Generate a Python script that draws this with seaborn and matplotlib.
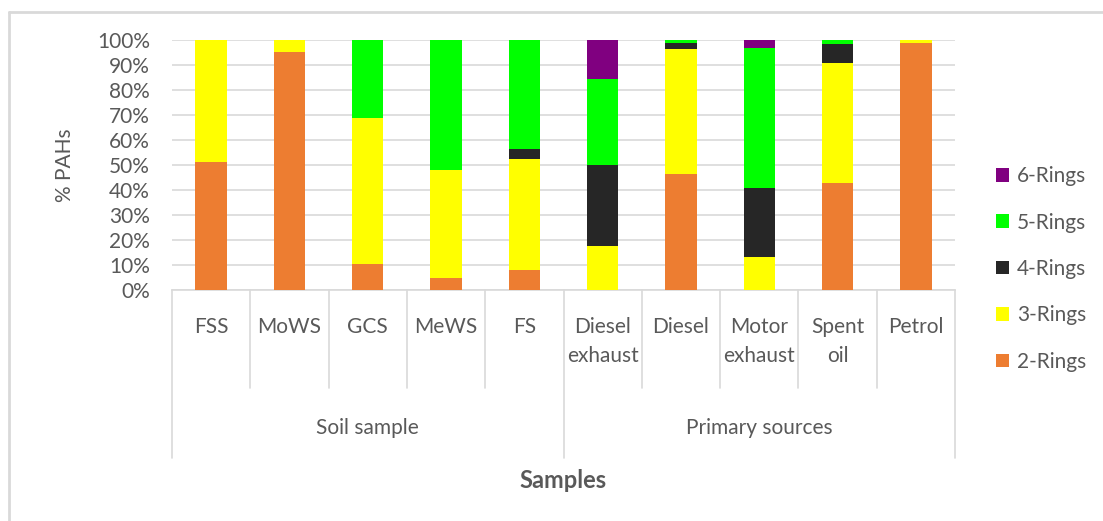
import matplotlib
matplotlib.use("Agg")
import matplotlib.pyplot as plt
import matplotlib.transforms as mtransforms
from matplotlib.patches import Patch
from matplotlib.lines import Line2D
import numpy as np
import pandas as pd
import seaborn as sns

# ── Data ──────────────────────────────────────────────────────
samples = ["FSS", "MoWS", "GCS", "MeWS", "FS",
           "Diesel\nexhaust", "Diesel", "Motor\nexhaust", "Spent\noil", "Petrol"]
groups = ["Soil sample", "Primary sources"]
group_sizes = [5, 5]

rings = ["2-Rings", "3-Rings", "4-Rings", "5-Rings", "6-Rings"]
ring_2 = [51.1, 95.4, 10.3, 4.7, 8.2, 0.0, 46.4, 0.0, 42.8, 98.9]
ring_3 = [48.9, 4.6, 58.7, 43.2, 44.3, 17.6, 50.0, 13.4, 48.0, 1.1]
ring_4 = [0.0, 0.0, 0.0, 0.0, 3.8, 32.4, 2.5, 27.4, 7.6, 0.0]
ring_5 = [0.0, 0.0, 31.0, 52.1, 43.7, 34.6, 1.1, 56.0, 1.6, 0.0]
ring_6 = [0.0, 0.0, 0.0, 0.0, 0.0, 15.4, 0.0, 3.2, 0.0, 0.0]

COLORS = {"2-Rings": "#ED7D31", "3-Rings": "#FFFF00", "4-Rings": "#262626",
          "5-Rings": "#00FF00", "6-Rings": "#800080"}
TEXT = "#595959"
GRID = "#D9D9D9"
FS = 15

# ── Setup ─────────────────────────────────────────────────────
sns.set_theme(style="white")
plt.rcParams["font.family"] = ["Lato", "DejaVu Sans"]

df = pd.DataFrame({"sample": samples, "2-Rings": ring_2, "3-Rings": ring_3,
                   "4-Rings": ring_4, "5-Rings": ring_5, "6-Rings": ring_6})
# cumulative tops, each series drawn over the previous one
cum = df[rings].cumsum(axis=1)

W, H = 1103, 521
fig = plt.figure(figsize=(W / 100, H / 100), dpi=100)
ax = fig.add_axes([172 / W, 1 - 290 / H, (955 - 172) / W, 250 / H])

for ring in reversed(rings):
    sns.barplot(x=df["sample"], y=cum[ring], order=samples, color=COLORS[ring],
                width=0.4, saturation=1, ax=ax, linewidth=0, zorder=3)

ax.set_ylim(0, 100)
ax.set_xlim(-0.5, len(samples) - 0.5)
ax.set_yticks(np.arange(0, 101, 10))
ax.set_yticklabels([f"{v}%" for v in range(0, 101, 10)], fontsize=FS, color=TEXT)
ax.tick_params(axis="y", length=0, pad=16)
ax.yaxis.grid(True, color=GRID, linewidth=1.2, zorder=0)
ax.set_axisbelow(True)
for s in ["top", "right", "left"]:
    ax.spines[s].set_visible(False)
ax.spines["bottom"].set_color(GRID)
ax.spines["bottom"].set_linewidth(1.2)
ax.set_xticks([])
ax.set_xlabel("")
ax.set_ylabel("% PAHs", fontsize=FS, color=TEXT, labelpad=16)

# ── Multi-level category axis ─────────────────────────────────
trans = mtransforms.blended_transform_factory(ax.transData, fig.transFigure)

def fy(py):
    return 1 - py / H

for i, lab in enumerate(samples):
    ax.text(i, fy(317), lab, transform=trans, ha="center", va="top",
            fontsize=FS, color=TEXT, linespacing=1.55)

bounds = np.cumsum([0] + group_sizes)
for i in range(len(samples) + 1):
    x = i - 0.5
    bottom = 458 if i in bounds else 388
    ax.add_line(Line2D([x, x], [fy(290), fy(bottom)], transform=trans,
                       color=GRID, linewidth=1.2, clip_on=False))

for g, a, b in zip(groups, bounds[:-1], bounds[1:]):
    ax.text((a + b - 1) / 2, fy(428), g, transform=trans, ha="center",
            va="center", fontsize=FS, color=TEXT)

fig.text((172 + 955) / 2 / W, fy(480), "Samples", ha="center", va="center",
         fontsize=17, fontweight="bold", color=TEXT)

# ── Legend ────────────────────────────────────────────────────
handles = [Patch(facecolor=COLORS[r], edgecolor="none", label=r)
           for r in reversed(rings)]
leg = fig.legend(handles=handles, loc="center left",
                 bbox_to_anchor=(996 / W, fy(269)), frameon=False,
                 fontsize=FS, handlelength=0.62, handleheight=0.62,
                 handletextpad=0.4, labelspacing=1.27, borderpad=0,
                 borderaxespad=0)
for t in leg.get_texts():
    t.set_color(TEXT)

# ── Outer border (left and top) ───────────────────────────────
fig.add_artist(Line2D([9 / W, 9 / W], [0, fy(12)], color=GRID, linewidth=2))
fig.add_artist(Line2D([9 / W, 1], [fy(12), fy(12)], color=GRID, linewidth=2))

plt.savefig("out.png", dpi=100, facecolor="white")
plt.close()
